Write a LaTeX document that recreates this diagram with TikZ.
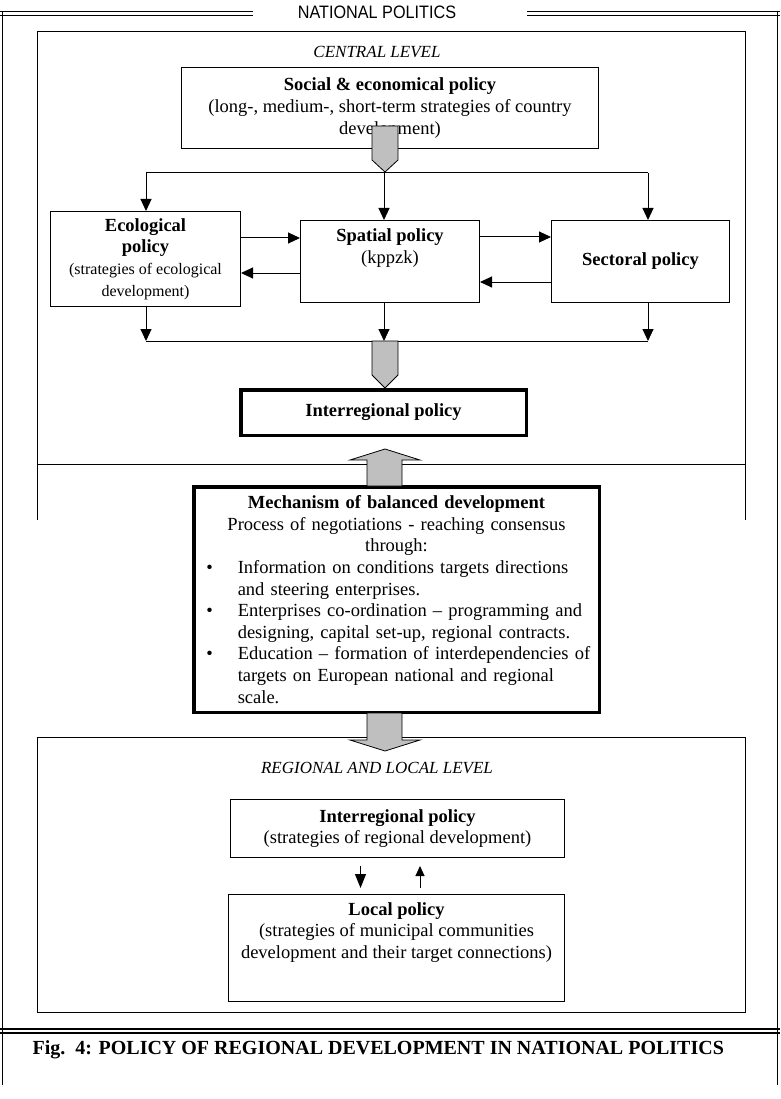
\documentclass[tikz,border=0pt]{standalone}
\usepackage{fontspec}
\setmainfont{Liberation Serif}
\newfontfamily\sansfont[FakeStretch=0.9]{Liberation Sans}
\usetikzlibrary{arrows.meta,positioning,calc}

\begin{document}
\begin{tikzpicture}[
    x=1pt, y=-1pt,
    font=\fontsize{18.5}{21.6}\selectfont,
    box/.style={draw, rectangle, align=center, line width=1pt, inner sep=4pt},
    thickbox/.style={draw, rectangle, line width=3.5pt, inner sep=4pt},
    arrow/.style={-{Triangle[length=12pt,width=11pt]}, line width=1pt},
    grayarrow/.style={draw, line width=0.8pt, fill=black!25},
    levelframe/.style={line width=1pt},
    doubleline/.style={line width=1.6pt},
    leveltext/.style={font=\fontsize{17}{20}\selectfont\itshape}
  ]
    \useasboundingbox (0,0) rectangle (780,1099);

    \draw[doubleline] (0,11.5) -- (253,11.5) (0,15.5) -- (253,15.5);
    \draw[doubleline] (527,11.5) -- (780,11.5) (527,15.5) -- (780,15.5);
    \draw[doubleline] (0,1029) -- (780,1029) (0,1033) -- (780,1033);
    \draw[levelframe, line width=1.5pt] (2.5,11) -- (2.5,1085);
    \draw[levelframe, line width=1.5pt] (777.5,11) -- (777.5,1085);
    \draw[levelframe] (37,520) -- (37,32) -- (745,32) -- (745,520);
    \draw[levelframe] (37,464) -- (745,464);
    \draw[levelframe] (37,737) rectangle (745,1012);

    \node (title) at (377,12) {\sansfont\fontsize{18}{20}\selectfont NATIONAL POLITICS};
    \node[leveltext] (central) at (377,52) {CENTRAL LEVEL};

    \node[box, minimum width=417, minimum height=81] (social) at (390,108)
        {\textbf{Social \& economical policy}\\(long-, medium-, short-term strategies of country\\development)};
    \node[box, minimum width=190, minimum height=95] (eco) at (145.5,259)
        {\textbf{Ecological}\\\textbf{policy}\\{\fontsize{16}{21.6}\selectfont (strategies of ecological}\\{\fontsize{16}{21.6}\selectfont development)}};
    \node[box, minimum width=179, minimum height=82] (spatial) at (390,261.5)
        {\textbf{Spatial policy}\\(kppzk)\rule[-31pt]{0pt}{31pt}};
    \node[box, minimum width=178, minimum height=82] (sectoral) at (640.5,261.5)
        {\textbf{Sectoral policy}};
    \node[thickbox, align=center, minimum width=285.5, minimum height=45.5] (interpol) at (383.5,412.5)
        {\textbf{Interregional policy}};

    \node[thickbox, text width=393.5, inner xsep=6pt, minimum height=225.5] (mech) at (396.5,599.5)
        {{\centering\textbf{Mechanism of balanced development}\\
         Process of negotiations - reaching consensus\\through:\par}
         \raggedright
         \begin{list}{\textbullet}{\setlength\leftmargin{38pt}\setlength\labelwidth{13pt}%
             \setlength\labelsep{25pt}\setlength\itemsep{0pt}\setlength\parsep{0pt}%
             \setlength\topsep{0pt}\setlength\partopsep{0pt}}
           \item Information on conditions targets directions\newline and steering enterprises.
           \item Enterprises co-ordination – programming and\newline designing, capital set-up, regional contracts.
           \item Education – formation of interdependencies of\newline targets on European national and regional\newline scale.
         \end{list}};

    \node[leveltext] (regional) at (377,768) {REGIONAL AND LOCAL LEVEL};
    \node[box, minimum width=334, minimum height=58] (regpol) at (397.5,828.5)
        {\textbf{Interregional policy}\\(strategies of regional development)};
    \node[box, minimum width=336, minimum height=107] (locpol) at (396.5,948)
        {\textbf{Local policy}\\(strategies of municipal communities\\development and their target connections)\rule[-35pt]{0pt}{35pt}};

    \node[font=\fontsize{20}{22}\selectfont\bfseries, anchor=west] (caption) at (29,1050)
        {Fig.\ \ 4: POLICY OF REGIONAL DEVELOPMENT IN NATIONAL POLITICS};

    \coordinate (splitL) at (146,173);
    \coordinate (splitM) at (384,173);
    \coordinate (splitR) at (648,173);
    \coordinate (joinL) at (146,341);
    \coordinate (joinM) at (384,341);
    \coordinate (joinR) at (648,341);

    \draw[line width=1pt] (splitL) -- (splitR);
    \draw[arrow] (splitL) -- (splitL |- eco.north);
    \draw[arrow] (splitM) -- (splitM |- spatial.north);
    \draw[arrow] (splitR) -- (splitR |- sectoral.north);

    \draw[arrow] (eco.east |- 0,238) -- (spatial.west |- 0,238);
    \draw[arrow] (spatial.west |- 0,273) -- (eco.east |- 0,273);
    \draw[arrow] (spatial.east |- 0,237) -- (sectoral.west |- 0,237);
    \draw[arrow] (sectoral.west |- 0,282) -- (spatial.east |- 0,282);

    \draw[line width=1pt] (joinL) -- (joinR);
    \draw[arrow] (joinL |- eco.south) -- (joinL);
    \draw[arrow] (joinM |- spatial.south) -- (joinM);
    \draw[arrow] (joinR |- sectoral.south) -- (joinR);

    \draw[grayarrow] (372,126) -- (398,126) -- (398,160) -- (385,172) -- (372,160) -- cycle;
    \draw[grayarrow] (372,341) -- (398,341) -- (398,375) -- (385,388) -- (372,375) -- cycle;
    \draw[grayarrow] (367,486) -- (367,460) -- (350,460) -- (385,449) -- (420,460) -- (402,460) -- (402,486) -- cycle;
    \draw[grayarrow] (367,713) -- (367,740) -- (350,740) -- (385,751) -- (420,740) -- (402,740) -- (402,713) -- cycle;

    \draw[arrow, -{Triangle[length=14pt,width=11pt]}] ([xshift=-37pt,yshift=-8pt]regpol.south) -- ([xshift=-36pt,yshift=6pt]locpol.north);
    \draw[arrow, -{Triangle[length=10pt,width=9pt]}] ([xshift=23.5pt,yshift=6pt]locpol.north) -- ([xshift=22.5pt,yshift=-8pt]regpol.south);
  \end{tikzpicture}
\end{document}
